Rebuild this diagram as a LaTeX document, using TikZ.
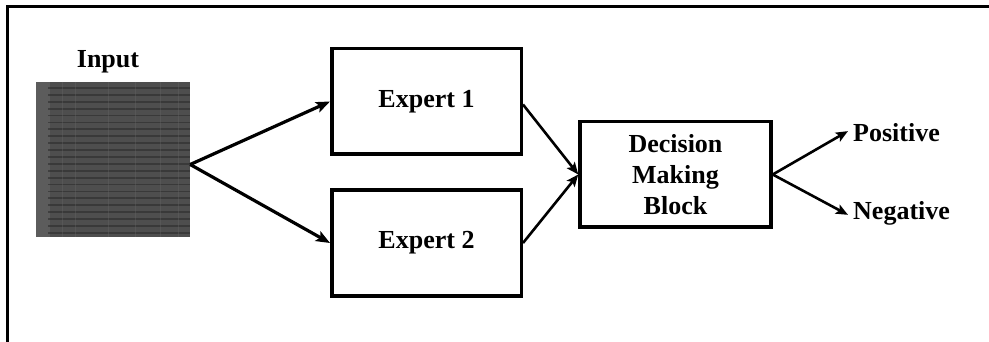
\documentclass[tikz,border=0pt]{standalone}
\usepackage{fontspec}
\setmainfont{Liberation Serif}
\usetikzlibrary{arrows.meta}
\definecolor{imgbase}{RGB}{78,78,78}
\definecolor{imglight}{RGB}{92,92,92}
\definecolor{imgdark}{RGB}{40,40,40}
\definecolor{imgvert}{RGB}{105,105,105}
\begin{document}
\begin{tikzpicture}[x=1pt,y=-1pt,
  lbl/.style={font=\fontsize{26}{31}\selectfont\bfseries, inner sep=0pt, align=center},
  blockbox/.style={draw, line width=3.5pt, lbl, minimum width=189.5pt, minimum height=105.5pt},
  bigarrow/.style={line width=3.2pt, -{Stealth[length=14pt,width=11pt,inset=3pt]}},
  midarrow/.style={line width=2.6pt, -{Stealth[length=12pt,width=10pt,inset=2.5pt]}}]
\useasboundingbox (0,0) rectangle (989,342);
% outer frame (top and left only)
\draw[line width=3pt] (7,342) -- (7,7) -- (989,7);
% input image
\node[fill=imgbase, minimum width=154pt, minimum height=155pt, inner sep=0pt] (input) at (113,159.5) {};
\fill[imglight] (36,82) rectangle (50,237);
\foreach \i in {0,...,21} {
  \draw[line width=1.8pt, imgdark, opacity=0.55] (48,{88+\i*6.9}) -- (190,{88+\i*6.9});
}
\foreach \xx in {62,75,108,135,160,178} {
  \draw[line width=1pt, imgvert, opacity=0.35] (\xx,82) -- (\xx,237);
}
\node[lbl, anchor=base] (inlbl) at (108,68) {Input};
% expert boxes
\node[blockbox] (e1) at (426.5,101.5) {Expert 1};
\node[blockbox] (e2) at (426.5,243) {Expert 2};
% decision block
\node[blockbox, minimum width=191pt] (dm) at (675.5,174.5) {Decision\\Making\\Block};
% outputs
\node[lbl, anchor=base west] (pos) at (853,142) {Positive};
\node[lbl, anchor=base west] (neg) at (853,219) {Negative};
% connectors
\draw[bigarrow] ([yshift=-5pt]input.east) -- (e1.west);
\draw[bigarrow] ([yshift=-5pt]input.east) -- (e2.west);
\draw[midarrow] ([yshift=-3pt]e1.east) -- (dm.west);
\draw[midarrow] (e2.east) -- (dm.west);
\draw[midarrow] (dm.east) -- ([xshift=-5pt,yshift=2pt]pos.west);
\draw[midarrow] (dm.east) -- ([xshift=-5pt,yshift=-2pt]neg.west);
\end{tikzpicture}
\end{document}
